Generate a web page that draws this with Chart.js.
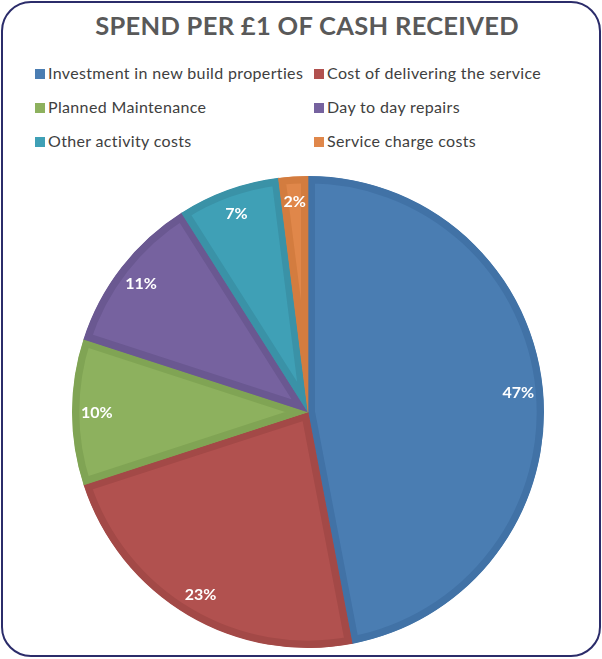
<!DOCTYPE html>
<html>
<head>
<meta charset="utf-8">
<script src="https://cdn.jsdelivr.net/npm/chart.js@4.4.0/dist/chart.umd.min.js"></script>
<style>
  html, body { margin: 0; padding: 0; background: #fff; }
  body { width: 602px; height: 659px; position: relative; overflow: hidden; font-family: "Lato", "Noto Sans", sans-serif; }
  .frame {
    position: absolute; left: 1px; top: 1px; width: 596px; height: 652px;
    border: 2px solid #2b2c6a; border-radius: 30px; box-sizing: content-box;
  }
  h1 {
    position: absolute; left: 0; top: 10px; width: 614px; margin: 0;
    text-align: center; font-size: 25.5px; font-weight: 700; color: #595959; letter-spacing: 0.3px;
  }
  #legend { position: absolute; left: 35px; top: 63px; width: 560px; }
  .item { position: absolute; font-size: 16px; letter-spacing: 0.35px; color: #404040; white-space: nowrap; line-height: 20px; }
  .item span.box { display: inline-block; width: 10px; height: 10px; margin-right: 3px; vertical-align: 0px; }
  #wrap { position: absolute; left: 72px; top: 176px; width: 472px; height: 472px; }
</style>
</head>
<body>
<div class="frame"></div>
<h1>SPEND PER £1 OF CASH RECEIVED</h1>
<div id="legend"></div>
<div id="wrap"><canvas id="pie"></canvas></div>
<script>
// spend categories and their share of each £1 received
const categories = [
  "Investment in new build properties",
  "Cost of delivering the service",
  "Planned Maintenance",
  "Day to day repairs",
  "Other activity costs",
  "Service charge costs"
];
const shares = [47, 23, 10, 11, 7, 2];
const fillColours = ["#4a7db2", "#b1514f", "#8db15e", "#76629f", "#3fa0b6", "#e0874a"];
const edgeColours = ["#4172a6", "#a34947", "#80a454", "#6a5891", "#3a92a7", "#d37c3f"];

// legend in two columns, built from the same arrays
const legend = document.getElementById("legend");
categories.forEach((name, i) => {
  const div = document.createElement("div");
  div.className = "item";
  div.style.left = (i % 2 === 0 ? 0 : 279) + "px";
  div.style.top = (Math.floor(i / 2) * 34) + "px";
  div.innerHTML = '<span class="box" style="background:' + fillColours[i] + '"></span>' + name;
  legend.appendChild(div);
});

// white percentage labels placed along each slice's middle angle
const sliceLabels = {
  id: "sliceLabels",
  afterDatasetsDraw(chart) {
    const ctx = chart.ctx;
    const meta = chart.getDatasetMeta(0);
    ctx.save();
    ctx.fillStyle = "#ffffff";
    ctx.font = "bold 16px Lato, 'Noto Sans', sans-serif";
    ctx.textAlign = "center";
    ctx.textBaseline = "middle";
    meta.data.forEach((arc, i) => {
      const mid = (arc.startAngle + arc.endAngle) / 2;
      const r = arc.outerRadius * 0.895;
      ctx.fillText(shares[i] + "%", arc.x + Math.cos(mid) * r, arc.y + Math.sin(mid) * r + 1);
    });
    ctx.restore();
  }
};

new Chart(document.getElementById("pie"), {
  type: "pie",
  data: {
    labels: categories,
    datasets: [{
      data: shares,
      backgroundColor: fillColours,
      borderColor: edgeColours,
      borderWidth: 7,
      borderAlign: "inner"
    }]
  },
  options: {
    animation: false,
    responsive: true,
    maintainAspectRatio: false,
    layout: { padding: 0 },
    plugins: {
      legend: { display: false },
      title: { display: false },
      tooltip: { enabled: false }
    }
  },
  plugins: [sliceLabels]
});
</script>
</body>
</html>
